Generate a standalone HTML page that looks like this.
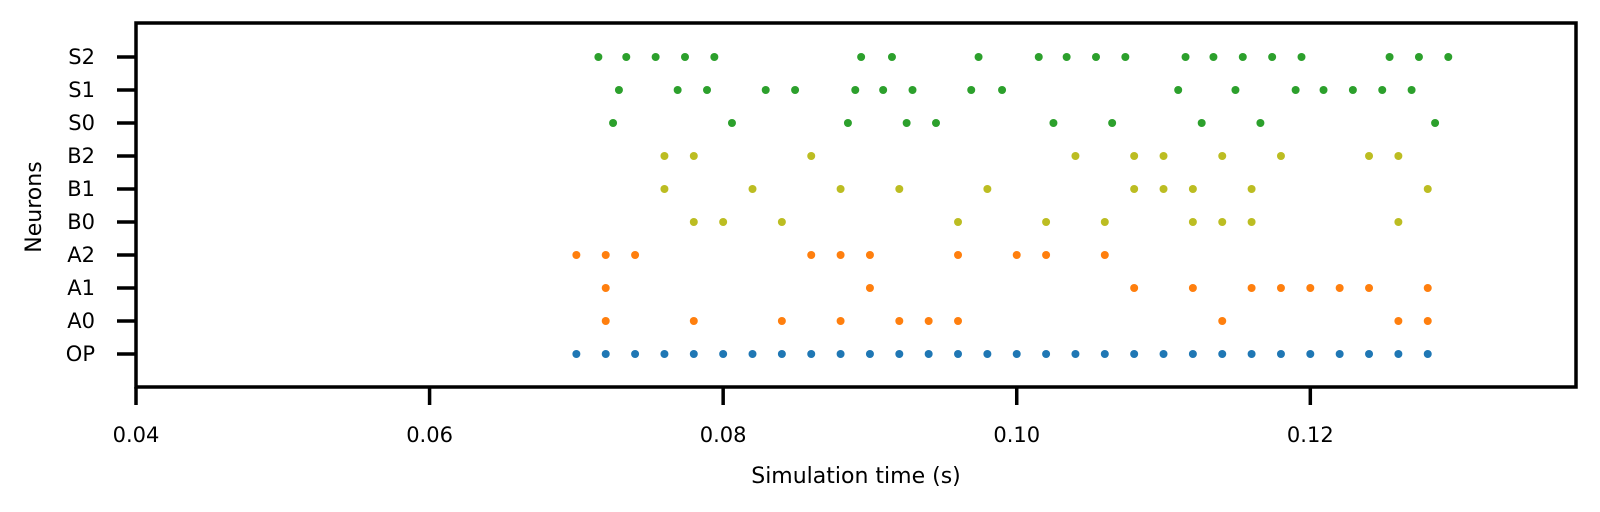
<!DOCTYPE html>
<html><head><meta charset="utf-8"><style>
body{margin:0;background:#fff;}
svg{display:block;font-family:"DejaVu Sans","Liberation Sans",sans-serif;}
</style></head><body>
<svg id="chart" width="1600" height="512"></svg>
<script>
const neuronLabels=["OP","A0","A1","A2","B0","B1","B2","S0","S1","S2"];
const neuronColors=["#1f77b4","#ff7f0e","#ff7f0e","#ff7f0e","#bcbd22","#bcbd22","#bcbd22","#2ca02c","#2ca02c","#2ca02c"];
const spikesOP=[0.070,0.072,0.074,0.076,0.078,0.080,0.082,0.084,0.086,0.088,0.090,0.092,0.094,0.096,0.098,0.100,0.102,0.104,0.106,0.108,0.110,0.112,0.114,0.116,0.118,0.120,0.122,0.124,0.126,0.128];
const spikesA0=[0.072,0.078,0.084,0.088,0.092,0.094,0.096,0.114,0.126,0.128];
const spikesA1=[0.072,0.090,0.108,0.112,0.116,0.118,0.120,0.122,0.124,0.128];
const spikesA2=[0.070,0.072,0.074,0.086,0.088,0.090,0.096,0.100,0.102,0.106];
const spikesB0=[0.078,0.080,0.084,0.096,0.102,0.106,0.112,0.114,0.116,0.126];
const spikesB1=[0.076,0.082,0.088,0.092,0.098,0.108,0.110,0.112,0.116,0.128];
const spikesB2=[0.076,0.078,0.086,0.104,0.108,0.110,0.114,0.118,0.124,0.126];
const spikesS0=[0.0725,0.0806,0.0885,0.0925,0.0945,0.1025,0.1065,0.1126,0.1166,0.1285];
const spikesS1=[0.0729,0.0769,0.0789,0.0829,0.0849,0.0890,0.0909,0.0929,0.0969,0.0990,0.1110,0.1149,0.1190,0.1209,0.1229,0.1249,0.1269];
const spikesS2=[0.0715,0.0734,0.0754,0.0774,0.0794,0.0894,0.0915,0.0974,0.1015,0.1034,0.1054,0.1074,0.1115,0.1134,0.1154,0.1174,0.1194,0.1254,0.1274,0.1294];
const xTicks=[0.04,0.06,0.08,0.10,0.12];
const xTickLabels=["0.04","0.06","0.08","0.10","0.12"];
const xDomain=[0.04,0.1381];

const allSpikes=[spikesOP,spikesA0,spikesA1,spikesA2,spikesB0,spikesB1,spikesB2,spikesS0,spikesS1,spikesS2];
const L=136,R=1576,T=23,B=387;
const NS="http://www.w3.org/2000/svg";
const svg=document.getElementById('chart');
function x(v){return L+(v-xDomain[0])/(xDomain[1]-xDomain[0])*(R-L);}
function y(i){return 354-i*33;}
function mk(tag,attrs,parent){const e=document.createElementNS(NS,tag);for(const k in attrs)e.setAttribute(k,attrs[k]);(parent||svg).appendChild(e);return e;}

const frame=mk('rect',{x:L,y:T,width:R-L,height:B-T,fill:'none',stroke:'#000','stroke-width':3.5});



neuronLabels.forEach((lab,i)=>{
  const g=mk('g',{});
  
  
  mk('line',{x1:L-19,x2:L,y1:y(i),y2:y(i),stroke:'#000','stroke-width':3.5},g);
  const t=mk('text',{x:95,y:y(i)+7,'text-anchor':'end','font-size':21},g);
  t.textContent=lab;
});
xTicks.forEach((v,i)=>{
  const g=mk('g',{});
  
  
  mk('line',{x1:x(v),x2:x(v),y1:B,y2:B+18,stroke:'#000','stroke-width':3.5},g);
  const t=mk('text',{x:x(v),y:442,'text-anchor':'middle','font-size':21},g);
  t.textContent=xTickLabels[i];
});
const xl=mk('text',{x:856,y:483,'text-anchor':'middle','font-size':22});
xl.textContent='Simulation time (s)';


const yl=mk('text',{x:41,y:207,'text-anchor':'middle','font-size':22,transform:'rotate(-90 41 207)'});
yl.textContent='Neurons';



allSpikes.forEach((arr,i)=>{
  const g=mk('g',{fill:neuronColors[i]});
  
  
  arr.forEach(v=>{
    const c=mk('circle',{cx:x(v),cy:y(i),r:4},g);
    
    
  });
});
</script>
</body></html>
